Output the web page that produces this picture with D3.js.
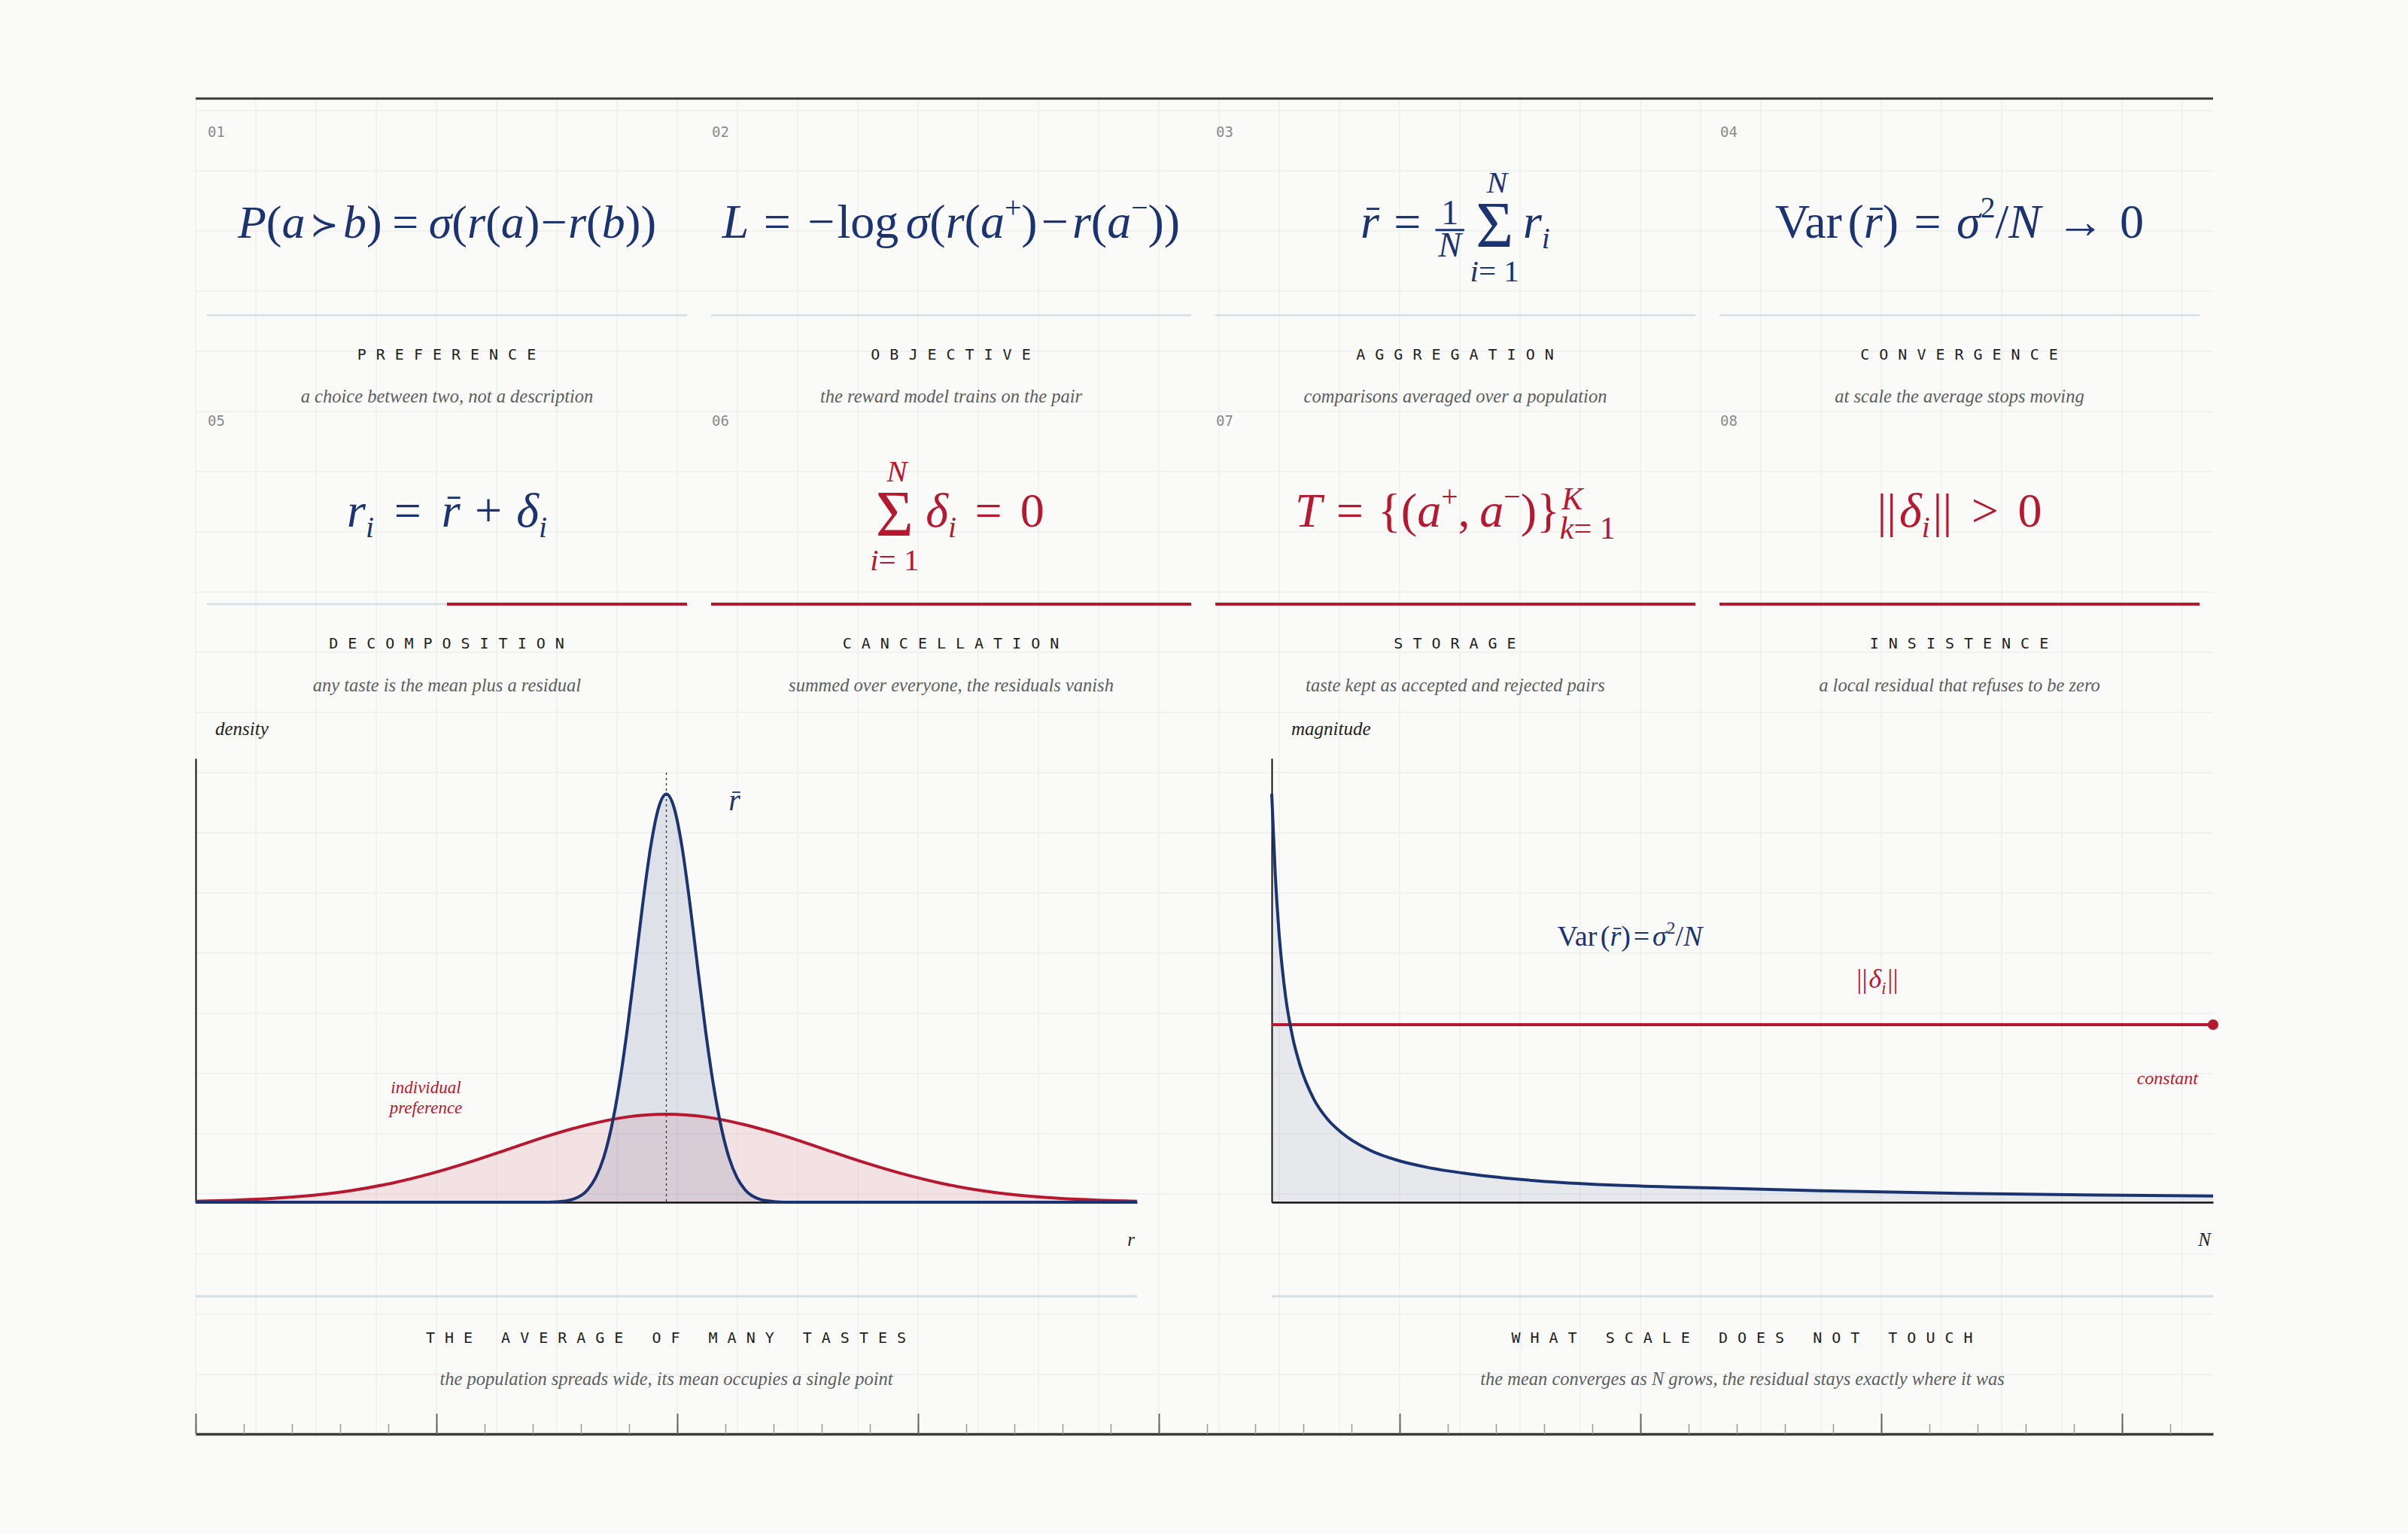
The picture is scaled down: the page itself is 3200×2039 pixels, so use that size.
<!DOCTYPE html>
<html><head><meta charset="utf-8">
<script src="https://cdn.jsdelivr.net/npm/d3@7"></script>
<style>
html,body{margin:0;padding:0;background:#fafaf8;}
svg{display:block;}
</style></head><body>
<svg id="c" width="3200" height="2039"></svg>
<script>
// ---------------- data ----------------
const panelNumbers = ["01","02","03","04","05","06","07","08"];
const panelTitles = ["PREFERENCE","OBJECTIVE","AGGREGATION","CONVERGENCE","DECOMPOSITION","CANCELLATION","STORAGE","INSISTENCE"];
const panelSubtitles = [
  "a choice between two, not a description",
  "the reward model trains on the pair",
  "comparisons averaged over a population",
  "at scale the average stops moving",
  "any taste is the mean plus a residual",
  "summed over everyone, the residuals vanish",
  "taste kept as accepted and rejected pairs",
  "a local residual that refuses to be zero"
];
const panelAccent = [0, 0, 0, 0, 0.5, 1, 1, 1];          // share of the rule shown in red
const panelTone = ["navy","navy","navy","navy","navy","red","red","red"];

// left chart: population of individual preferences vs distribution of the mean
const rPopulation = [-3,-2.75,-2.5,-2.25,-2,-1.75,-1.5,-1.25,-1,-0.75,-0.5,-0.25,0,0.25,0.5,0.75,1,1.25,1.5,1.75,2,2.25,2.5,2.75,3];
const individualDensity = [0.005,0.010,0.019,0.034,0.058,0.093,0.140,0.197,0.261,0.325,0.379,0.417,0.430,0.417,0.379,0.325,0.261,0.197,0.140,0.093,0.058,0.034,0.019,0.010,0.005];
const rMean = [-3,-1,-0.8,-0.7,-0.6,-0.5,-0.45,-0.4,-0.35,-0.3,-0.25,-0.2,-0.15,-0.1,-0.05,0,0.05,0.1,0.15,0.2,0.25,0.3,0.35,0.4,0.45,0.5,0.6,0.7,0.8,1,3];
const meanDensity = [0,0,0.0003,0.0023,0.0136,0.0625,0.121,0.217,0.366,0.574,0.839,1.146,1.461,1.737,1.927,1.995,1.927,1.737,1.461,1.146,0.839,0.574,0.366,0.217,0.121,0.0625,0.0136,0.0023,0.0003,0,0];

// right chart: variance of the mean vs N, and the residual norm
const sampleN = [1,1.25,1.5,1.75,2,2.5,3,4,5,6,8,10,12,15,20,25,30,40,50,60,68];
const meanVariance = [0.92,0.74,0.615,0.527,0.46,0.37,0.31,0.232,0.186,0.156,0.117,0.094,0.079,0.064,0.048,0.039,0.034,0.026,0.020,0.016,0.014];
const residualN = [1, 68];
const residualNorm = [0.40, 0.40];

const chartTitles = ["THE AVERAGE OF MANY TASTES","WHAT SCALE DOES NOT TOUCH"];
const chartSubtitles = [
  "the population spreads wide, its mean occupies a single point",
  "the mean converges as N grows, the residual stays exactly where it was"
];
const axisLabels = [["density","r"],["magnitude","N"]];

// formula tokens
const I = t => ({t, it:true});
const U = t => ({t, it:false});
const Us = (t, k) => ({t, it:false, k});
const sub = (t, it=true) => ({t, it, sub:true});
const sup = (t, it=false) => ({t, it, sup:true});
const bar = t => ({t, it:true, bar:true});
const sp = w => ({space:w});
const sum = (above, below) => ({sum:true, above, below});
const frac = (n, d) => ({frac:true, n, d});
const subsup = (b, a) => ({subsup:true, b, a});

const formulas = [
  [I("P"),U("("),I("a"),sp(.1),Us("≻",0.72),sp(.1),I("b"),U(")"),sp(.22),U("="),sp(.22),I("σ"),U("("),I("r"),U("("),I("a"),U(")"),sp(.02),U("−"),sp(.02),I("r"),U("("),I("b"),U("))")],
  [I("L"),sp(.3),U("="),sp(.35),U("−"),sp(.05),U("log"),sp(.15),I("σ"),U("("),I("r"),U("("),I("a"),sup("+"),U(")"),sp(.08),U("−"),sp(.08),I("r"),U("("),I("a"),sup("−"),U("))")],
  [bar("r"),sp(.3),U("="),sp(.3),frac([U("1")],[I("N")]),sp(.12),sum([I("N")],[I("i"),U(" = 1")]),sp(.08),I("r"),sub("i")],
  [U("Var"),sp(.12),U("("),bar("r"),U(")"),sp(.32),U("="),sp(.32),I("σ"),sup("2"),U("/"),I("N"),sp(.32),U("→"),sp(.32),U("0")],
  [I("r"),sub("i"),sp(.42),U("="),sp(.42),bar("r"),sp(.3),U("+"),sp(.3),I("δ"),sub("i")],
  [sum([I("N")],[I("i"),U(" = 1")]),sp(.14),I("δ"),sub("i"),sp(.38),U("="),sp(.38),U("0")],
  [I("T"),sp(.3),U("="),sp(.3),U("{("),I("a"),sup("+"),U(","),sp(.2),I("a"),sup("−"),U(")}"),subsup([I("k"),U(" = 1")],[I("K")])],
  [U("||"),sp(.06),I("δ"),sub("i"),sp(.06),U("||"),sp(.4),U(">"),sp(.4),U("0")]
];

// ---------------- style ----------------
const COL = {bg:"#fafaf8", navy:"#1c3371", red:"#b7182f", ink:"#1f1f1f", sub:"#5a5f63", num:"#8b8b8b", rule:"#d3dee8", grid:"#eceff1"};
const SERIF = '"Liberation Serif","DejaVu Serif",serif';
const MONO = '"DejaVu Sans Mono","Liberation Mono",monospace';

const svg = d3.select("#c");
svg.append("rect").attr("width",3200).attr("height",2039).attr("fill",COL.bg);

// ---------------- grid ----------------
const gridX = d3.scaleLinear().domain([0, 1]).range([260, 340]);
const gridY = d3.scaleLinear().domain([0, 1]).range([147, 227]);
const gGrid = svg.append("g").attr("stroke", COL.grid).attr("stroke-width", 1.5);
gGrid.selectAll("line.v").data(d3.range(0, 34)).join("line")
  .attr("x1", d => gridX(d)).attr("x2", d => gridX(d)).attr("y1", 133).attr("y2", 1905);
gGrid.selectAll("line.h").data(d3.range(0, 22)).join("line")
  .attr("y1", d => gridY(d)).attr("y2", d => gridY(d)).attr("x1", 260).attr("x2", 2941);

// top rule
svg.append("line").attr("x1",260).attr("x2",2941).attr("y1",131).attr("y2",131)
  .attr("stroke","#3a3a3a").attr("stroke-width",3);

// ---------------- formula renderer ----------------
function draw(parent, tokens, size, color) {
  const g = parent.append("g");
  let x = 0;
  for (const tk of tokens) {
    if (tk.space != null) { x += tk.space * size; continue; }
    if (tk.sum) {
      const S = draw(g, [U("Σ")], size * 1.34, color);
      const A = draw(g, tk.above, size * 0.64, color);
      const B = draw(g, tk.below, size * 0.64, color);
      const w = Math.max(S.w, A.w, B.w);
      S.g.attr("transform", `translate(${x + (w - S.w) / 2},${size * 0.19})`);
      A.g.attr("transform", `translate(${x + (w - A.w) / 2 + size*0.05},${-size * 0.93})`);
      B.g.attr("transform", `translate(${x + (w - B.w) / 2},${size * 0.9})`);
      x += w;
      continue;
    }
    if (tk.frac) {
      const Nn = draw(g, tk.n, size * 0.72, color);
      const D = draw(g, tk.d, size * 0.72, color);
      const w = Math.max(Nn.w, D.w) + size * 0.12;
      Nn.g.attr("transform", `translate(${x + (w - Nn.w) / 2},${-size * 0.28})`);
      D.g.attr("transform", `translate(${x + (w - D.w) / 2},${size * 0.39})`);
      g.append("line").attr("x1", x).attr("x2", x + w).attr("y1", -size * 0.16).attr("y2", -size * 0.16)
        .attr("stroke", color).attr("stroke-width", size * 0.05);
      x += w;
      continue;
    }
    if (tk.subsup) {
      const Bs = draw(g, tk.b, size * 0.66, color);
      const As = draw(g, tk.a, size * 0.66, color);
      Bs.g.attr("transform", `translate(${x},${size * 0.25})`);
      As.g.attr("transform", `translate(${x + size*0.04},${-size * 0.36})`);
      x += Math.max(Bs.w, As.w);
      continue;
    }
    const s = size * (tk.sub || tk.sup ? 0.62 : (tk.k || 1));
    const dy = tk.sub ? size * 0.22 : tk.sup ? -size * 0.42 : (tk.k ? -size * 0.04 : 0);
    const t = g.append("text").attr("x", x).attr("y", dy)
      .attr("font-family", SERIF).attr("font-size", s)
      .attr("font-style", tk.it ? "italic" : "normal").attr("fill", color).text(tk.t);
    const w = t.node().getComputedTextLength();
    if (tk.bar) {
      g.append("line").attr("x1", x + w * 0.32).attr("x2", x + w * 1.0)
        .attr("y1", -size * 0.6).attr("y2", -size * 0.6)
        .attr("stroke", color).attr("stroke-width", size * 0.045);
    }
    x += w;
  }
  return {g, w: x};
}
function placeFormula(parent, tokens, size, color, cx, baseline) {
  const F = draw(parent, tokens, size, color);
  F.g.attr("transform", `translate(${cx - F.w / 2},${baseline})`);
  return F;
}

// ---------------- panels ----------------
const colW = 670, panelW = 638, rowH = 384;
panelNumbers.forEach((num, i) => {
  const col = i % 4, row = Math.floor(i / 4);
  const x0 = 275 + col * colW, oy = row * rowH, cx = x0 + panelW / 2;
  const g = svg.append("g");
  g.append("text").attr("x", x0 + 1).attr("y", 182 + oy).attr("font-family", MONO)
    .attr("font-size", 19).attr("fill", COL.num).text(num);
  const color = panelTone[i] === "red" ? COL.red : COL.navy;
  placeFormula(g, formulas[i], i === 0 ? 62 : 64, color, cx + (i === 5 ? 8 : 0), 316 + oy);
  // rule
  g.append("line").attr("x1", x0).attr("x2", x0 + panelW).attr("y1", 419 + oy).attr("y2", 419 + oy)
    .attr("stroke", COL.rule).attr("stroke-width", 2.5);
  if (panelAccent[i] > 0) {
    g.append("line").attr("x1", x0 + panelW * (1 - panelAccent[i])).attr("x2", x0 + panelW)
      .attr("y1", 419 + oy).attr("y2", 419 + oy).attr("stroke", COL.red).attr("stroke-width", 4);
  }
  g.append("text").attr("x", cx + 6).attr("y", 478 + oy).attr("text-anchor", "middle")
    .attr("font-family", MONO).attr("font-size", 20).attr("fill", COL.ink)
    .style("letter-spacing", "13px").text(panelTitles[i]);
  g.append("text").attr("x", cx).attr("y", 535 + oy).attr("text-anchor", "middle")
    .attr("font-family", SERIF).attr("font-style", "italic").attr("font-size", 24.5)
    .attr("fill", COL.sub).text(panelSubtitles[i]);
});

// ---------------- left chart ----------------
const xL = d3.scaleLinear().domain([-3, 3]).range([260, 1511]);
const yL = d3.scaleLinear().domain([0, 2.17]).range([1598, 1008]);
const gl = svg.append("g");
const popPts = rPopulation.map((r, i) => [r, individualDensity[i]]);
const meanPts = rMean.map((r, i) => [r, meanDensity[i]]);
const areaL = d3.area().x(d => xL(d[0])).y0(yL(0)).y1(d => yL(d[1])).curve(d3.curveMonotoneX);
const lineL = d3.line().x(d => xL(d[0])).y(d => yL(d[1])).curve(d3.curveMonotoneX);
gl.append("path").attr("d", areaL(popPts)).attr("fill", COL.red).attr("fill-opacity", 0.1);
gl.append("path").attr("d", areaL(meanPts)).attr("fill", COL.navy).attr("fill-opacity", 0.12);
gl.append("line").attr("x1", xL(0)).attr("x2", xL(0)).attr("y1", 1027).attr("y2", yL(0))
  .attr("stroke", "#333").attr("stroke-width", 1.3).attr("stroke-dasharray", "3,4");
gl.append("g").attr("transform", "translate(260,0)")
  .call(d3.axisLeft(yL).ticks(0).tickSizeOuter(0))
  .call(a => a.select(".domain").attr("stroke", "#111").attr("stroke-width", 2));
gl.append("g").attr("transform", `translate(0,${yL(0)})`)
  .call(d3.axisBottom(xL).ticks(0).tickSizeOuter(0))
  .call(a => a.select(".domain").attr("stroke", "#111").attr("stroke-width", 2.5));
gl.append("path").attr("d", lineL(popPts)).attr("fill", "none").attr("stroke", COL.red).attr("stroke-width", 4);
gl.append("path").attr("d", lineL(meanPts)).attr("fill", "none").attr("stroke", COL.navy).attr("stroke-width", 4);
placeFormula(gl, [bar("r")], 40, COL.navy, 976, 1077);
gl.append("text").attr("x", 566).attr("y", 1453).attr("text-anchor", "middle").attr("font-family", SERIF)
  .attr("font-style", "italic").attr("font-size", 23).attr("fill", COL.red).text("individual");
gl.append("text").attr("x", 566).attr("y", 1480).attr("text-anchor", "middle").attr("font-family", SERIF)
  .attr("font-style", "italic").attr("font-size", 23).attr("fill", COL.red).text("preference");

// ---------------- right chart ----------------
const xR = d3.scaleLinear().domain([1, 68]).range([1690, 2941]);
const yR = d3.scaleLinear().domain([0, 1]).range([1598, 1008]);
const gr = svg.append("g");
const varPts = sampleN.map((n, i) => [n, meanVariance[i]]);
const resPts = residualN.map((n, i) => [n, residualNorm[i]]);
const areaR = d3.area().x(d => xR(d[0])).y0(yR(0)).y1(d => yR(d[1])).curve(d3.curveMonotoneX);
const lineR = d3.line().x(d => xR(d[0])).y(d => yR(d[1])).curve(d3.curveMonotoneX);
gr.append("path").attr("d", areaR(varPts)).attr("fill", COL.navy).attr("fill-opacity", 0.09);
gr.append("g").attr("transform", "translate(1690,0)")
  .call(d3.axisLeft(yR).ticks(0).tickSizeOuter(0))
  .call(a => a.select(".domain").attr("stroke", "#111").attr("stroke-width", 2));
gr.append("g").attr("transform", `translate(0,${yR(0)})`)
  .call(d3.axisBottom(xR).ticks(0).tickSizeOuter(0))
  .call(a => a.select(".domain").attr("stroke", "#111").attr("stroke-width", 2.5));
gr.append("path").attr("d", lineR(resPts)).attr("fill", "none").attr("stroke", COL.red).attr("stroke-width", 4);
gr.append("circle").attr("cx", xR(residualN[1])).attr("cy", yR(residualNorm[1])).attr("r", 7).attr("fill", COL.red);
gr.append("path").attr("d", lineR(varPts)).attr("fill", "none").attr("stroke", COL.navy).attr("stroke-width", 4);
placeFormula(gr, [U("Var"),sp(.12),U("("),bar("r"),U(")"),sp(.1),U("="),sp(.1),I("σ"),sup("2"),U("/"),I("N")], 38, COL.navy, 2166, 1257);
placeFormula(gr, [U("||"),sp(.05),I("δ"),sub("i"),sp(.05),U("||")], 36, COL.red, 2495, 1313);
gr.append("text").attr("x", 2921).attr("y", 1441).attr("text-anchor", "end").attr("font-family", SERIF)
  .attr("font-style", "italic").attr("font-size", 24).attr("fill", COL.red).text("constant");

// ---------------- chart labels / titles ----------------
const chartBox = [[260, 1511], [1690, 2941]];
chartBox.forEach(([a, b], k) => {
  const g = svg.append("g");
  g.append("text").attr("x", a + 26).attr("y", 977).attr("font-family", SERIF).attr("font-style", "italic")
    .attr("font-size", 25).attr("fill", COL.ink).text(axisLabels[k][0]);
  g.append("text").attr("x", b - 3).attr("y", 1656).attr("text-anchor", "end").attr("font-family", SERIF)
    .attr("font-style", "italic").attr("font-size", 25).attr("fill", COL.ink).text(axisLabels[k][1]);
  g.append("line").attr("x1", a).attr("x2", b).attr("y1", 1723).attr("y2", 1723)
    .attr("stroke", COL.rule).attr("stroke-width", 3);
  g.append("text").attr("x", (a + b) / 2 + 6).attr("y", 1785).attr("text-anchor", "middle")
    .attr("font-family", MONO).attr("font-size", 20).attr("fill", COL.ink)
    .style("letter-spacing", "13px").text(chartTitles[k]);
  g.append("text").attr("x", (a + b) / 2).attr("y", 1841).attr("text-anchor", "middle")
    .attr("font-family", SERIF).attr("font-style", "italic").attr("font-size", 24.5)
    .attr("fill", COL.sub).text(chartSubtitles[k]);
});

// ---------------- bottom ruler ----------------
const ruler = d3.scaleLinear().domain([0, 2681 / 64]).range([260, 2941]);
svg.append("g").attr("transform", "translate(0,1906)")
  .call(d3.axisTop(ruler).tickValues(d3.range(0, 42)).tickSize(13).tickSizeOuter(0).tickFormat(""))
  .call(a => a.select(".domain").attr("stroke", "#3a3a3a").attr("stroke-width", 3.5))
  .call(a => a.selectAll(".tick line").attr("stroke", "#9a9a9a").attr("stroke-width", 1.5));
svg.append("g").attr("transform", "translate(0,1906)")
  .call(d3.axisTop(ruler).tickValues(d3.range(0, 42, 5)).tickSize(27).tickSizeOuter(0).tickFormat(""))
  .call(a => a.select(".domain").remove())
  .call(a => a.selectAll(".tick line").attr("stroke", "#666").attr("stroke-width", 2));
</script>
</body></html>
